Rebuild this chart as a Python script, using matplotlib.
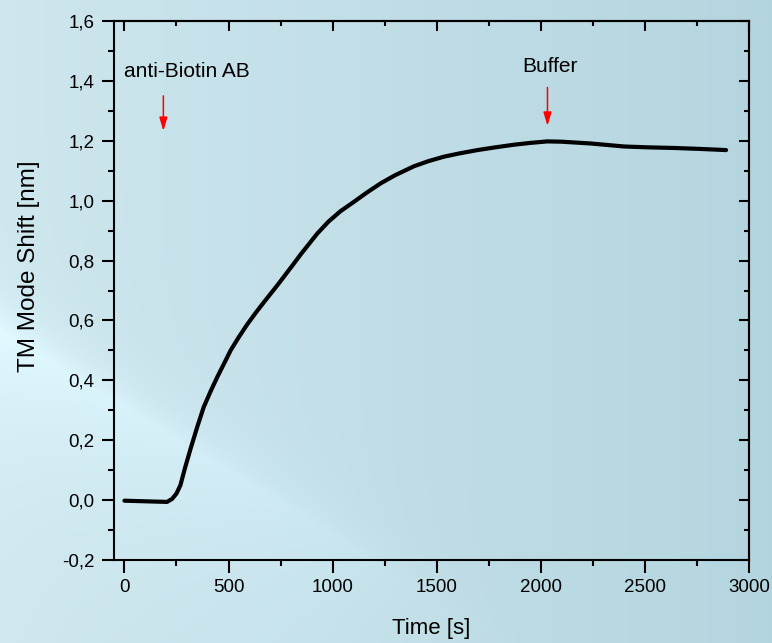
import numpy as np
import matplotlib.pyplot as plt

time_s = [0, 50, 100, 150, 205, 229, 250, 269, 290, 317, 350, 381, 415, 446,
          480, 510, 550, 590, 630, 670, 734, 814, 846, 894, 926, 980, 1038,
          1100, 1160, 1231, 1300, 1391, 1460, 1535, 1610, 1696, 1780, 1872,
          1950, 2032, 2100, 2170, 2240, 2320, 2400, 2520, 2641, 2760, 2890]
shift_nm = [-0.002, -0.003, -0.004, -0.005, -0.006, 0.004, 0.022, 0.050,
            0.105, 0.170, 0.245, 0.311, 0.365, 0.411, 0.458, 0.500, 0.545,
            0.587, 0.625, 0.661, 0.717, 0.790, 0.820, 0.862, 0.890, 0.930,
            0.965, 0.995, 1.025, 1.058, 1.085, 1.115, 1.132, 1.147, 1.158,
            1.169, 1.178, 1.187, 1.193, 1.198, 1.197, 1.194, 1.191, 1.186,
            1.181, 1.178, 1.176, 1.173, 1.169]

# Injection events: label, arrow time, text position, arrow start/end
events = ["anti-Biotin AB", "Buffer"]
event_time = [187, 2032]
event_text_x = [298, 2045]
event_text_y = [1.43, 1.447]
arrow_top = [1.35, 1.378]
arrow_tip = [1.233, 1.25]

x_ticks = [0, 500, 1000, 1500, 2000, 2500, 3000]
y_ticks = [-0.2, 0.0, 0.2, 0.4, 0.6, 0.8, 1.0, 1.2, 1.4, 1.6]

plt.rcParams['font.family'] = ['Liberation Sans', 'DejaVu Sans']

fig = plt.figure(figsize=(7.72, 6.43), dpi=100)

# light blue slide-style background with a diagonal sheen
bg = fig.add_axes([0, 0, 1, 1], zorder=-10)
H, W = 643, 772
yy, xx = np.mgrid[0:H, 0:W].astype(float)
light = np.array([0.81, 0.905, 0.935])
dark = np.array([0.705, 0.835, 0.875])
mix = np.clip(xx / W, 0, 1)[..., None]
img = light * (1 - mix) + dark * mix
dist = yy - (330 + 0.62 * xx)
sheen = np.where(dist > 0, np.exp(-dist / 110.0), np.exp(dist / 30.0))
sheen *= np.clip(1 - xx / 520.0, 0, 1)
img = img + sheen[..., None] * 0.075
img = np.clip(img, 0, 1)
bg.imshow(img, extent=[0, 1, 0, 1], aspect='auto', origin='upper')
bg.axis('off')

ax = fig.add_axes([0.1477, 0.1291, 0.9702 - 0.1477, 0.9673 - 0.1291])
ax.set_facecolor('none')

ax.plot(time_s, shift_nm, color='black', lw=3.0, solid_capstyle='round',
        solid_joinstyle='round')

for lab, t, tx, ty, a0, a1 in zip(events, event_time, event_text_x,
                                   event_text_y, arrow_top, arrow_tip):
    ax.text(tx, ty, lab, ha='center', va='center', fontsize=15)
    ax.annotate('', xy=(t, a1), xytext=(t, a0),
                arrowprops=dict(arrowstyle='-|>,head_length=0.8,head_width=0.24',
                                color='red', lw=1.1, mutation_scale=10,
                                shrinkA=0, shrinkB=0))

ax.set_xlim(-50, 3000)
ax.set_ylim(-0.2, 1.6)
ax.set_xticks(x_ticks)
ax.set_xticks(np.arange(250, 3000, 500), minor=True)
ax.set_yticks(y_ticks)
ax.set_yticks(np.arange(-0.1, 1.6, 0.2), minor=True)
ax.set_xticklabels([str(x) for x in x_ticks])
ax.set_yticklabels([f"{y:.1f}".replace('.', ',') for y in y_ticks])

ax.tick_params(which='major', direction='out', length=9, width=1.5,
               labelsize=13.5, pad=5)
ax.tick_params(which='minor', direction='out', length=4.5, width=1.5)

for s in ax.spines.values():
    s.set_linewidth(1.5)

# top and right: inward ticks without labels
top = ax.secondary_xaxis('top')
top.set_xticks(x_ticks)
top.set_xticks(np.arange(250, 3000, 500), minor=True)
top.tick_params(which='major', direction='in', length=7, width=1.5,
                labeltop=False)
top.tick_params(which='minor', direction='in', length=3.5, width=1.5)
top.spines['top'].set_linewidth(1.5)

right = ax.secondary_yaxis('right')
right.set_yticks(y_ticks)
right.set_yticks(np.arange(-0.1, 1.6, 0.2), minor=True)
right.tick_params(which='major', direction='in', length=7, width=1.5,
                  labelright=False)
right.tick_params(which='minor', direction='in', length=3.5, width=1.5)
right.spines['right'].set_linewidth(1.5)

ax.set_xlabel('Time [s]', fontsize=16)
ax.set_ylabel('TM Mode Shift [nm]', fontsize=17.5)
ax.xaxis.set_label_coords(0.499, -0.108)
ax.yaxis.set_label_coords(-0.117, 0.545)

fig.savefig('out.png', dpi=100)
